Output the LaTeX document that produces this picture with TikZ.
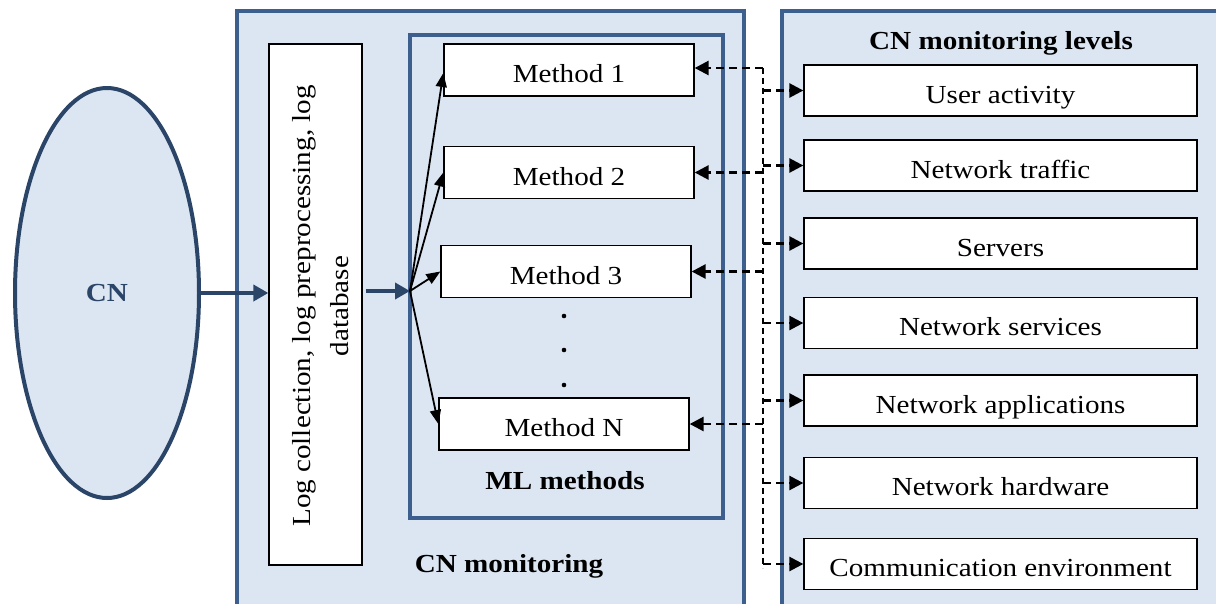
\documentclass[tikz,border=0pt]{standalone}
\usepackage{fontspec}
\setmainfont{Liberation Serif}[FakeStretch=1.12]
\usetikzlibrary{arrows.meta,shapes.geometric}
\definecolor{lightfill}{HTML}{DCE6F2}
\definecolor{boxborder}{HTML}{3D5F8E}
\definecolor{darkblue}{HTML}{2B4569}
\tikzset{
  bigpanel/.style={draw=boxborder, line width=4pt, fill=lightfill},
  txt/.style={font=\fontsize{26}{30}\selectfont, text height=25pt, text depth=0pt},
  wbox/.style={txt, draw=black, line width=1.3pt, fill=white, minimum width=250pt, minimum height=52pt, inner sep=0pt},
  lbox/.style={txt, draw=black, line width=1.3pt, fill=white, minimum width=393pt, minimum height=51pt, inner sep=0pt},
  bluearrow/.style={draw=darkblue, line width=4.5pt, -{Triangle[length=15pt,width=16pt]}},
  fanarrow/.style={draw=black, line width=1.8pt, -{Triangle[length=14pt,width=11pt]}},
  dasharrow/.style={draw=black, line width=2.6pt, dash pattern=on 8pt off 5pt, -{Triangle[length=14pt,width=14pt]}},
  vdash/.style={draw=black, line width=1.6pt, dash pattern=on 6pt off 4pt},
  title/.style={font=\bfseries\fontsize{26}{30}\selectfont},
}
\begin{document}
\begin{tikzpicture}[x=1pt,y=-1pt]
\clip (0,0) rectangle (1216,603);
% panels
\draw[bigpanel] (237,11) rectangle (744,620);
\draw[bigpanel] (782,11) rectangle (1240,620);
\draw[draw=boxborder, line width=3.5pt, fill=lightfill] (410,35) rectangle (723,518);
% ellipse
\node[draw=darkblue, line width=4pt, fill=lightfill, ellipse, minimum width=184pt, minimum height=410pt, inner sep=0pt] (cn) at (107,293) {};
\node[text=darkblue, font=\bfseries\fontsize{26}{30}\selectfont] at (cn.center) {CN};
% log box
\node[draw=black, line width=1.3pt, fill=white, minimum width=93pt, minimum height=521pt, inner sep=0pt] (log) at (315.5,304.5) {};
\node[rotate=90, align=center, font=\fontsize{26}{38}\selectfont] at (321,306) {Log collection, log preprocessing, log\\database};
% methods
\node[wbox] (m1) at (569,70) {Method 1};
\node[wbox] (m2) at (569,172.5) {Method 2};
\node[wbox] (m3) at (566,271.5) {Method 3};
\node[wbox] (mN) at (564,424) {Method N};
\foreach \yy in {316,350,385} \fill (564,\yy) circle (2.3pt);
\node[title] (mlt) at (565,481) {ML methods};
\node[title] (cnm) at (509,566) {CN monitoring};
\node[title] (lvt) at (1001,43) {CN monitoring levels};
% levels
\node[lbox] (l1) at (1000.5,90.5) {User activity};
\node[lbox] (l2) at (1000.5,165.5) {Network traffic};
\node[lbox] (l3) at (1000.5,243.5) {Servers};
\node[lbox] (l4) at (1000.5,323) {Network services};
\node[lbox] (l5) at (1000.5,400.5) {Network applications};
\node[lbox] (l6) at (1000.5,483) {Network hardware};
\node[lbox] (l7) at (1000.5,564) {Communication environment};
% blue arrows
\draw[bluearrow] (cn.east) -- (log.west |- cn.east);
\coordinate (fan) at (410,291);
\draw[bluearrow] ([xshift=3pt]log.east |- fan) -- (fan);
% fan arrows
\draw[fanarrow] (fan) -- ([yshift=-3pt]m1.west);
\draw[fanarrow] (fan) -- (m2.west);
\draw[fanarrow] (fan) -- (m3.west);
\draw[fanarrow] (fan) -- (mN.west);
% dashed bus
\coordinate (bt) at (763,68);
\coordinate (bb) at (763,568);
\draw[vdash] (bt) -- (bb);
\draw[dasharrow] (bt) -- (m1.east |- bt);
\foreach \m in {m2,m3,mN} \draw[dasharrow] (bt |- \m.east) -- (\m.east);
\foreach \l in {l1,l2,l3,l4,l5,l6,l7} \draw[dasharrow] (bt |- \l.west) -- (\l.west);
\end{tikzpicture}
\end{document}
